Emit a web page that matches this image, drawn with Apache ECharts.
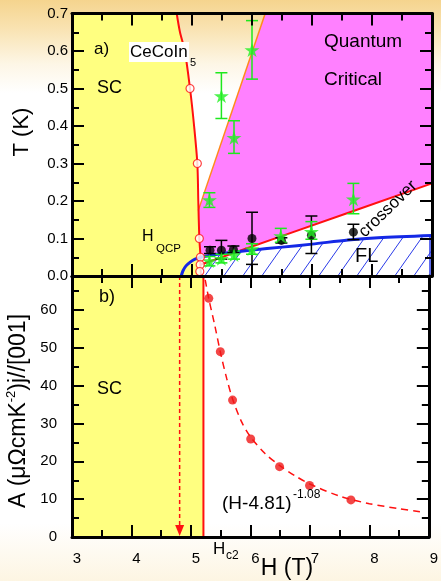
<!DOCTYPE html>
<html><head><meta charset="utf-8">
<script src="https://cdn.jsdelivr.net/npm/echarts/dist/echarts.min.js"></script>
<style>
html,body{margin:0;padding:0;background:#fff}
#c{width:441px;height:581px;background:linear-gradient(to bottom,#f5d48e 0px,#f9e3b2 29px,#fdf6e6 64px,#ffffff 93px,#ffffff 523px,#fdf5e2 581px)}
</style>
</head><body><div id="c"></div>
<script>
// ------------------ data ------------------
const xTickLabels = ['3','4','5','6','7','8','9'];
const tTickLabels = ['0.0','0.1','0.2','0.3','0.4','0.5','0.6','0.7'];
const aTickLabels = ['0','10','20','30','40','50','60'];
const hRange = [3, 9];
const tRange = [0, 0.7];
const aRange = [0, 69];

// Hc2(T) boundary of the SC phase, panel a)  [H (T), T (K)]
const hc2Line = [[4.745,0.7],[4.80,0.65],[4.88,0.6],[4.967,0.5],[5.035,0.4],[5.089,0.3],[5.105,0.2],[5.122,0.1],[5.14,0.05],[5.14,0.03],[5.15,0]];
// open circles on Hc2
const hc2Points = [[4.967,0.5],[5.089,0.3],[5.122,0.1],[5.14,0.05],[5.137,0.03],[5.13,0.012]];
// orange boundary of quantum critical region
const orangeLine = [[5.105,0.175],[6.22,0.7]];
// red crossover line
const crossoverLine = [[5.14,0.03],[6.47,0.105],[9,0.247]];
// blue Fermi-liquid line
const flLine = [[4.82,0],[4.85,0.014],[4.9,0.027],[4.97,0.037],[5.05,0.045],[5.2,0.052],[5.5,0.06],[6.0,0.069],[6.5,0.077],[7.0,0.085],[7.6,0.096],[8.1,0.102],[9,0.108]];
// green stars: [H, T, Tlow, Thigh]
const starData = [
  [5.29,0.203,0.183,0.222],[5.49,0.48,0.42,0.542],[5.70,0.369,0.327,0.414],[6.00,0.603,0.525,0.681],
  [6.48,0.107,0.090,0.127],[6.99,0.118,0.098,0.145],[7.69,0.205,0.166,0.247],
  [5.29,0.040,0.027,0.052],[5.49,0.046,0.035,0.058],[5.70,0.056,0.045,0.067],[6.00,0.072,0.058,0.086]
];
// black circles: [H, T, Tlow, Thigh]
const dotData = [
  [5.30,0.069,0.060,0.078],[5.49,0.069,0.045,0.095],[5.69,0.071,0.062,0.080],[6.00,0.100,0.031,0.170],
  [6.49,0.095,0.088,0.102],[6.99,0.109,0.060,0.160],[7.69,0.117,0.097,0.138]
];
// panel b): A coefficient
const aH = [5.30,5.494,5.70,6.005,6.49,6.994,7.69];
const aVal = [63.1,49.0,36.2,25.9,18.6,13.6,9.8];
// dashed fit curve (H-4.81)^-1.08
const fitCurve = [[5.24,68],[5.3,63],[5.4,56],[5.5,48.5],[5.6,42],[5.7,36.5],[5.85,30.5],[6.0,26.5],[6.25,22],[6.5,18.8],[6.75,16.2],[7.0,14],[7.5,10.8],[8.0,8.8],[8.5,7.5],[8.85,6.7]];
const hc2Bottom = 5.21;   // vertical Hc2 line in panel b)
const hQcp = 4.81;        // dashed arrow

// ------------------ derived shapes ------------------
const yellowTop = [[hRange[0],0],[hRange[0],tRange[1]], ...hc2Line];
const hc2Mid = hc2Line.filter(p => p[1] > crossoverLine[0][1] && p[1] < orangeLine[0][1]).sort((a,b)=>a[1]-b[1]);
const magentaPoly = [...orangeLine, [hRange[1],tRange[1]], ...crossoverLine.slice().reverse(), ...hc2Mid];
const hcEdge = hc2Line[hc2Line.length-1][0];
const hatchPoly = [[hcEdge,0],[hcEdge,0.05], ...flLine.filter(p=>p[0]>hcEdge), [hRange[1],0]];
const yellowBottom = [[hRange[0],aRange[0]],[hRange[0],aRange[1]],[hc2Bottom,aRange[1]],[hc2Bottom,aRange[0]]];

// ------------------ helpers ------------------
const FONT = '"Liberation Sans", Arial, sans-serif';
const measure = (() => { const c = document.createElement('canvas').getContext('2d'); return (t, f) => { c.font = f; return c.measureText(t).width; }; })();

const hatch = (() => {
  const w = 19, h = 27;
  const cv = document.createElement('canvas'); cv.width = w; cv.height = h;
  const g = cv.getContext('2d');
  g.fillStyle = '#ffffff'; g.fillRect(0,0,w,h);
  g.strokeStyle = '#2a3ae8'; g.lineWidth = 1;
  [-w, 0, w].forEach(dx => { g.beginPath(); g.moveTo(dx, h); g.lineTo(dx + w, 0); g.stroke(); });
  return cv;
})();

function polySeries(points, style, xi, yi, z, extra) {
  return {
    type: 'custom', xAxisIndex: xi, yAxisIndex: yi, z, silent: true,
    data: points, encode: { x: 0, y: 1 },
    renderItem(params, api) {
      if (params.dataIndex !== 0) return null;
      const pts = points.map(p => api.coord(p));
      const children = [{ type: 'polygon', shape: { points: pts }, style }];
      if (extra) children.push(...extra(api));
      return { type: 'group', children };
    }
  };
}

function errSeries(data, color, cap, z) {
  return {
    type: 'custom', xAxisIndex: 0, yAxisIndex: 0, z, silent: true,
    data: data.map(d => [d[0], d[2], d[3]]), encode: { x: 0, y: [1, 2] },
    renderItem(params, api) {
      const x = api.value(0);
      const a = api.coord([x, api.value(2)]), b = api.coord([x, api.value(1)]);
      const st = { stroke: color, lineWidth: 1.5 };
      return { type: 'group', children: [
        { type: 'line', shape: { x1: a[0], y1: a[1], x2: b[0], y2: b[1] }, style: st },
        { type: 'line', shape: { x1: a[0]-cap, y1: a[1], x2: a[0]+cap, y2: a[1] }, style: st },
        { type: 'line', shape: { x1: b[0]-cap, y1: b[1], x2: b[0]+cap, y2: b[1] }, style: st }
      ]};
    }
  };
}

const lblStyle = { color: '#000', fontFamily: FONT, fontSize: 15 };
function common() {
  return {
    z: 30,
    axisLine: { show: true, onZero: false, lineStyle: { color: '#000', width: 3 } },
    axisTick: { show: true, inside: true, length: 12, lineStyle: { color: '#000', width: 2 } },
    minorTick: { show: true, splitNumber: 2, length: 7, lineStyle: { color: '#000', width: 2 } },
    splitLine: { show: false }
  };
}
function xAx(grid, pos, showLabel) {
  return Object.assign(common(), {
    type: 'value', gridIndex: grid, position: pos, min: hRange[0], max: hRange[1], interval: 1,
    axisLabel: showLabel ? Object.assign({ show: true, margin: 14, padding: [0,0,0,10],
      formatter: v => xTickLabels[Math.round(v - hRange[0])] || '' }, lblStyle) : { show: false }
  });
}
function yAx(grid, pos, range, interval, labels, margin) {
  return Object.assign(common(), {
    type: 'value', gridIndex: grid, position: pos, min: range[0], max: range[1], interval,
    axisLabel: labels ? Object.assign({ show: true, margin,
      formatter: v => { const i = Math.round(v / interval); return Math.abs(v - i*interval) < 1e-9 ? (labels[i] || '') : ''; } }, lblStyle) : { show: false }
  });
}

function txt(text, x, y, size, align, extra) {
  return Object.assign({
    type: 'text', x, y, z: 100, silent: true,
    style: { text, fill: '#000', font: size + 'px ' + FONT, textAlign: align || 'left', textVerticalAlign: 'middle', align: align || 'left', verticalAlign: 'middle' }
  }, extra || {});
}

// rotated A-axis title with superscript
const aF = '23px ' + FONT, aS = '13px ' + FONT;
const aP1 = 'A (μΩcmK', aP2 = '-2', aP3 = ')j//[001]';
const w1 = measure(aP1, aF), w2 = measure(aP2, aS), w3 = measure(aP3, aF);
const aW = w1 + w2 + w3;

const option = {
  animation: false,
  grid: [
    { left: 72, top: 13.5, width: 360, height: 262.5 },
    { left: 72, top: 276, width: 360, height: 261 }
  ],
  xAxis: [ xAx(0,'bottom',false), xAx(0,'top',false), xAx(1,'top',false), xAx(1,'bottom',true) ],
  yAxis: [
    yAx(0,'left',tRange,0.1,tTickLabels,4), yAx(0,'right',tRange,0.1,null),
    yAx(1,'left',aRange,10,aTickLabels,15), yAx(1,'right',aRange,10,null)
  ],
  graphic: [
    txt('a)', 94, 49, 17),
    { type: 'rect', shape: { x: 129, y: 42, width: 60, height: 20 }, style: { fill: '#fff' }, z: 99, silent: true },
    txt('CeCoIn', 130, 52, 17),
    txt('5', 190, 63, 11),
    txt('SC', 97, 88, 18),
    txt('Quantum', 324, 42, 19),
    txt('Critical', 324, 80, 19),
    txt('H', 142, 237, 16),
    txt('QCP', 156, 249, 11.5),
    txt('crossover', 388, 209, 17, 'center', { rotation: 0.77 }),
    txt('FL', 355, 256, 20),
    txt('b)', 99, 297, 18),
    txt('SC', 97, 389, 18),
    txt('(H-4.81)', 222, 504, 19),
    txt('-1.08', 293, 495, 12),
    txt('H', 213, 549, 17),
    txt('c2', 226, 556, 12),
    txt('H (T)', 287, 569, 23, 'center'),
    txt('T (K)', 22, 132, 22, 'center', { rotation: Math.PI / 2 }),
    { type: 'group', x: 19, y: 411, rotation: Math.PI / 2, z: 100, silent: true, children: [
      { type: 'text', x: -aW/2, y: 0, style: { text: aP1, font: aF, fill: '#000', textAlign: 'left', textVerticalAlign: 'middle', align: 'left', verticalAlign: 'middle' } },
      { type: 'text', x: -aW/2 + w1, y: -8, style: { text: aP2, font: aS, fill: '#000', textAlign: 'left', textVerticalAlign: 'middle', align: 'left', verticalAlign: 'middle' } },
      { type: 'text', x: -aW/2 + w1 + w2, y: 0, style: { text: aP3, font: aF, fill: '#000', textAlign: 'left', textVerticalAlign: 'middle', align: 'left', verticalAlign: 'middle' } }
    ]}
  ],
  series: [
    // panel a) regions
    polySeries(yellowTop, { fill: '#ffff80' }, 0, 0, 1),
    polySeries(magentaPoly, { fill: '#ff80ff' }, 0, 0, 1),
    polySeries(hatchPoly, { fill: { image: hatch, repeat: 'repeat' } }, 0, 0, 1, api => {
      const a = api.coord([hRange[1], 0]), b = api.coord([hRange[1], flLine[flLine.length-1][1]]);
      return [{ type: 'line', shape: { x1: a[0]-2, y1: a[1], x2: b[0]-2, y2: b[1] }, style: { stroke: '#2a3ae8', lineWidth: 1.5 } }];
    }),
    // lines
    { type: 'line', xAxisIndex: 0, yAxisIndex: 0, z: 3, data: orangeLine, showSymbol: false, silent: true,
      lineStyle: { color: '#ff8a1a', width: 1.5 } },
    { type: 'line', xAxisIndex: 0, yAxisIndex: 0, z: 3, data: crossoverLine, showSymbol: false, silent: true, smooth: 0.2,
      lineStyle: { color: '#ff1010', width: 2 } },
    { type: 'line', xAxisIndex: 0, yAxisIndex: 0, z: 3, data: hc2Line, showSymbol: false, silent: true, smooth: 0.3,
      lineStyle: { color: '#ff1010', width: 2 } },
    { type: 'line', xAxisIndex: 0, yAxisIndex: 0, z: 4, data: flLine, showSymbol: false, silent: true, smooth: 0.3,
      lineStyle: { color: '#1428e6', width: 3 } },
    // error bars and points
    errSeries(dotData, '#000000', 6, 5),
    errSeries(starData, '#1ee81e', 6, 6),
    { type: 'scatter', xAxisIndex: 0, yAxisIndex: 0, z: 7, data: dotData.map(d => [d[0], d[1]]), symbol: 'circle', symbolSize: 9,
      itemStyle: { color: '#000' }, silent: true },
    { type: 'scatter', xAxisIndex: 0, yAxisIndex: 0, z: 8, data: starData.map(d => [d[0], d[1]]),
      symbol: 'path://M50,0 L61,35 L98,35 L68,57 L79,91 L50,70 L21,91 L32,57 L2,35 L39,35 Z', symbolKeepAspect: true, symbolSize: 15,
      itemStyle: { color: '#22f022' }, silent: true },
    { type: 'scatter', xAxisIndex: 0, yAxisIndex: 0, z: 9, data: hc2Points, symbol: 'circle', symbolSize: 8,
      itemStyle: { color: '#fff', borderColor: '#ff1010', borderWidth: 1.2 }, silent: true },

    // panel b)
    polySeries(yellowBottom, { fill: '#ffff80' }, 2, 2, 1),
    { type: 'line', xAxisIndex: 2, yAxisIndex: 2, z: 3, data: [[hc2Bottom, aRange[0]], [hc2Bottom, aRange[1]]], showSymbol: false, silent: true,
      lineStyle: { color: '#ff1010', width: 2 } },
    { type: 'custom', xAxisIndex: 2, yAxisIndex: 2, z: 3, silent: true, data: [[hQcp, aRange[1], 0]], encode: { x: 0, y: [1, 2] },
      renderItem(params, api) {
        const top = api.coord([api.value(0), api.value(1)]), tip = api.coord([api.value(0), api.value(2)]);
        return { type: 'group', children: [
          { type: 'line', shape: { x1: top[0], y1: top[1], x2: tip[0], y2: tip[1] - 10 }, style: { stroke: '#ff1010', lineWidth: 1.5, lineDash: [4, 3] } },
          { type: 'polygon', shape: { points: [[tip[0]-4.5, tip[1]-12], [tip[0]+4.5, tip[1]-12], [tip[0], tip[1]-1]] }, style: { fill: '#ff1010' } }
        ]};
      } },
    { type: 'line', xAxisIndex: 2, yAxisIndex: 2, z: 4, data: fitCurve, showSymbol: false, silent: true, smooth: 0.3,
      lineStyle: { color: '#ff1010', width: 1.5, type: [7, 5] } },
    { type: 'scatter', xAxisIndex: 2, yAxisIndex: 2, z: 5, data: aH.map((h, i) => [h, aVal[i]]), symbol: 'circle', symbolSize: 9,
      itemStyle: { color: '#f01818' }, silent: true }
  ]
};

const chart = echarts.init(document.getElementById('c'), null, { renderer: 'canvas' });
chart.setOption(option);
</script>
</body></html>
